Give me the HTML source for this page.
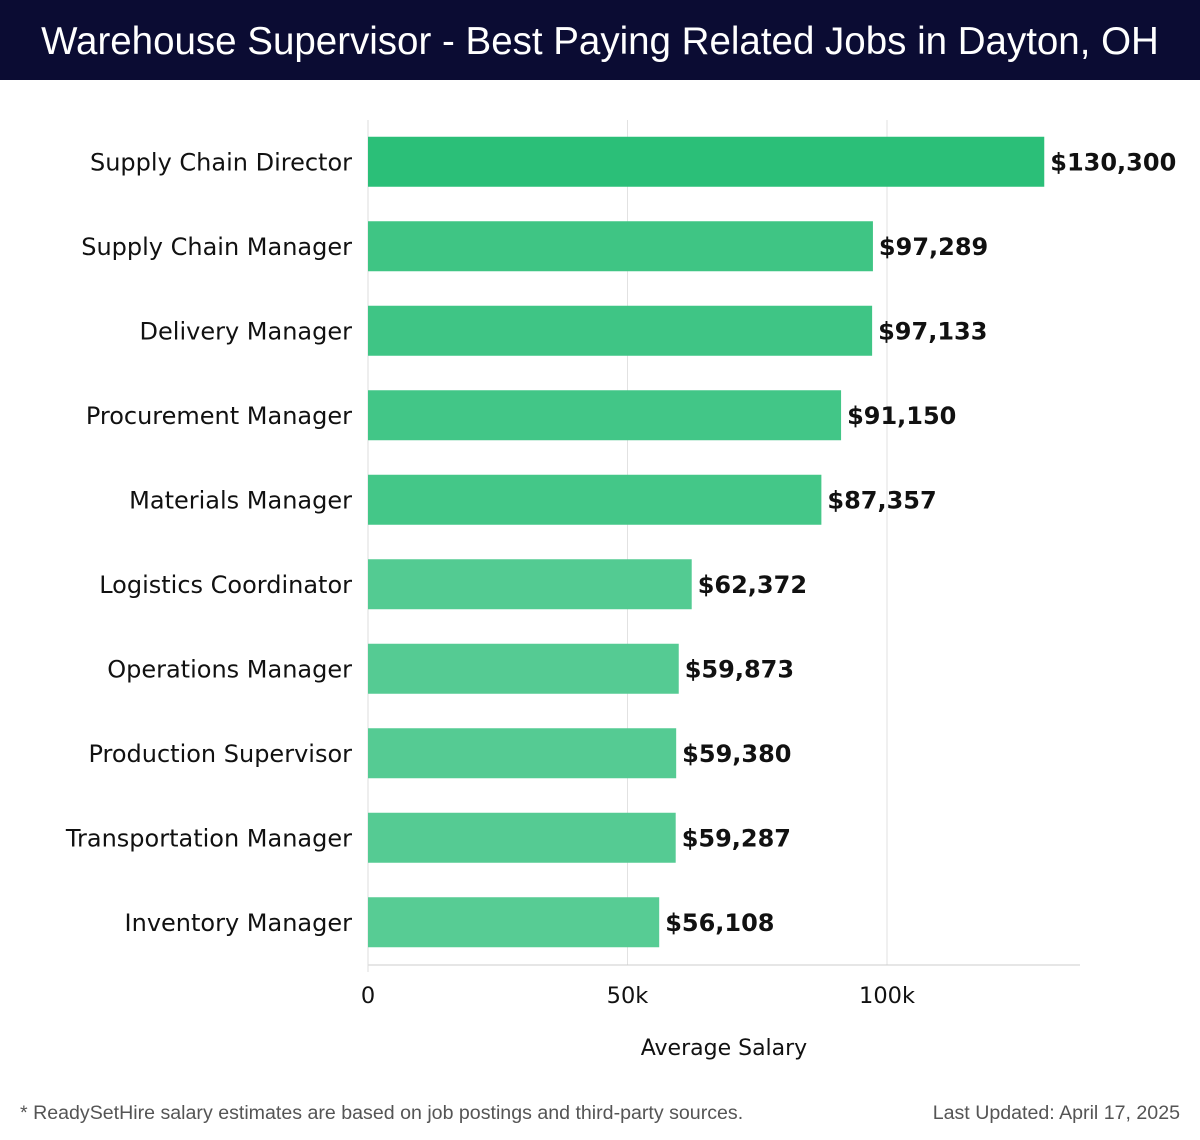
<!DOCTYPE html>
<html><head><meta charset="utf-8"><style>
body{margin:0;width:1200px;height:1140px;background:#fff;font-family:"Liberation Sans",sans-serif;overflow:hidden}
#title{position:absolute;left:0;top:0;width:1200px;height:80px;background:#0b0c33;color:#fff;font-size:38.5px;line-height:84px;text-align:center}
svg text{font-family:"DejaVu Sans",sans-serif}
svg text.foot{font-family:"Liberation Sans",sans-serif}
</style></head><body>
<div id="title">Warehouse Supervisor - Best Paying Related Jobs in Dayton, OH</div>
<svg id="chart" width="1200" height="1140" style="position:absolute;left:0;top:0"></svg>
<script>
const categories=["Supply Chain Director","Supply Chain Manager","Delivery Manager","Procurement Manager","Materials Manager","Logistics Coordinator","Operations Manager","Production Supervisor","Transportation Manager","Inventory Manager"];
const salaries=[130300,97289,97133,91150,87357,62372,59873,59380,59287,56108];
const valueLabels=["$130,300","$97,289","$97,133","$91,150","$87,357","$62,372","$59,873","$59,380","$59,287","$56,108"];
const tickValues=[0,50000,100000];
const tickLabels=["0","50k","100k"];
const svg=document.getElementById('chart');const NS='http://www.w3.org/2000/svg';
const x0=368,pxPerUnit=259.5/50000,plotTop=120,band=84.5,barH=50;
const xs=v=>x0+v*pxPerUnit;
const yc=i=>plotTop+band*i+band/2-0.5;
function mk(t,a,txt){const e=document.createElementNS(NS,t);for(const k in a)e.setAttribute(k,a[k]);if(txt!=null)e.textContent=txt;svg.appendChild(e);return e;}
tickValues.forEach((v,i)=>{
 if(v>0){const g=mk('line',{x1:xs(v),x2:xs(v),y1:plotTop,y2:965,stroke:'#e2e2e2','stroke-width':1});
 
 }
 const t=mk('text',{x:xs(v),y:1003,'font-size':22.5,'text-anchor':'middle',fill:'#111'},tickLabels[i]);
 
 
});
const ax=mk('line',{x1:x0,x2:1080,y1:965,y2:965,stroke:'#ccc','stroke-width':1});


const ay=mk('line',{x1:x0,x2:x0,y1:plotTop,y2:972,stroke:'#ddd','stroke-width':1});


const maxV=Math.max(...salaries),minV=Math.min(...salaries);
categories.forEach((c,i)=>{
 const v=salaries[i],f=(v-minV)/(maxV-minV);
 const col=`rgb(${Math.round(87-44*f)},${Math.round(204-13*f)},${Math.round(148-28*f)})`;
 const b=mk('rect',{x:x0,y:yc(i)-barH/2,width:xs(v)-x0,height:barH,fill:col});
 
 
 const l=mk('text',{x:352,y:yc(i)+8.5,'font-size':24,'text-anchor':'end',fill:'#111'},c);
 
 
 const vl=mk('text',{x:xs(v)+6,y:yc(i)+8.5,'font-size':24,'font-weight':'bold',fill:'#111'},valueLabels[i]);
 
 
});
const xt=mk('text',{x:724,y:1055,'font-size':22,'text-anchor':'middle',fill:'#111'},'Average Salary');


const f1=mk('text',{x:20,y:1119,'font-size':19.6,fill:'#555','class':'foot'},'* ReadySetHire salary estimates are based on job postings and third-party sources.');


const f2=mk('text',{x:1180,y:1119,'font-size':19.6,fill:'#555','text-anchor':'end','class':'foot'},'Last Updated: April 17, 2025');


</script>
</body></html>
